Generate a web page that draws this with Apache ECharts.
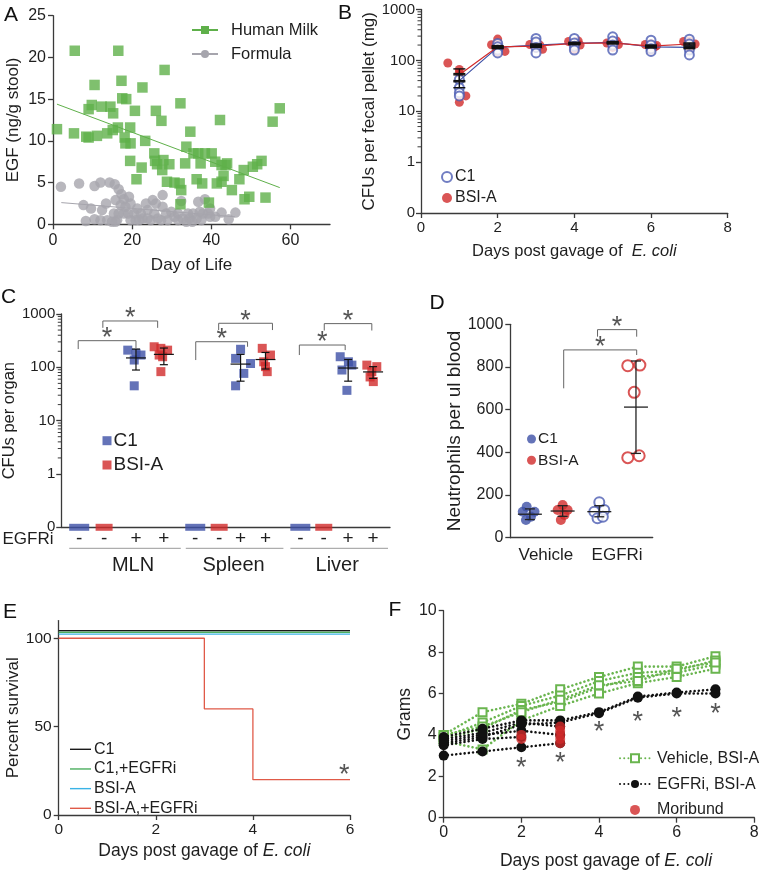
<!DOCTYPE html>
<html><head><meta charset="utf-8">
<script src="https://cdn.jsdelivr.net/npm/echarts@6/dist/echarts.min.js"></script>
<style>html,body{margin:0;padding:0;background:#fff}#c{width:762px;height:872px}</style>
</head><body><div id="c"></div>
<script>
// ================= DATA =================
// Panel A: EGF in stool vs day of life
const milkPts = [[1.0,11.4],[5.5,20.8],[5.3,10.9],[16.5,20.8],[17.3,17.2],[10.5,16.7],[22.6,16.4],[28.2,18.5],
 [9.0,13.8],[9.8,14.3],[12.3,14.1],[14.5,14.1],[15.2,13.3],[17.5,15.1],[18.5,15.0],[20.7,13.6],[26.0,13.6],[27.4,12.4],
 [32.2,14.5],[42.2,12.5],[55.5,12.3],[57.3,13.9],[8.4,10.5],[9.0,10.4],[11.1,10.6],[13.7,10.9],[15.1,11.3],[16.4,11.6],
 [18.1,10.4],[18.3,9.7],[19.5,11.6],[19.6,9.7],[23.3,10.0],[19.5,7.6],[22.4,6.8],[21.1,5.4],[25.6,8.5],[25.8,7.6],
 [26.3,7.2],[27.9,7.7],[27.6,6.5],[29.4,7.2],[28.8,5.1],[30.7,5.0],[32.0,4.9],[32.4,4.1],[32.2,2.4],[33.7,9.3],
 [34.7,11.1],[33.4,7.3],[35.5,8.5],[36.7,8.5],[38.4,8.5],[40.1,8.5],[37.3,7.3],[36.3,5.4],[37.7,4.9],[39.4,2.6],
 [41.0,7.5],[42.6,7.1],[43.6,7.1],[43.1,5.8],[41.4,4.9],[42.6,5.1],[45.2,4.1],[47.1,5.4],[48.2,6.5],[48.4,3.0],
 [49.6,3.3],[50.5,6.9],[51.6,7.2],[52.7,7.6],[53.7,3.2],[44.0,7.3]];
const formulaPts = [[2.0,4.5],[6.6,4.9],[7.7,2.3],[8.3,0.4],[9.6,1.9],[10.5,4.6],[10.5,0.6],[12.0,5.0],[14.3,5.0],
 [15.6,4.8],[16.6,4.2],[17.3,3.6],[17.9,3.0],[12.4,1.7],[13.4,2.5],[12.0,0.5],[13.7,0.5],[15.4,1.3],[15.8,0.3],
 [16.6,1.3],[17.1,2.3],[18.3,2.1],[19.2,3.3],[19.0,1.3],[19.6,0.5],[20.5,1.3],[20.9,0.5],[21.3,1.9],[22.2,1.3],
 [23.5,2.5],[23.9,1.7],[25.2,2.9],[26.0,2.5],[25.6,1.3],[26.5,0.7],[27.7,3.5],[27.7,2.1],[28.6,1.3],[23.9,0.7],
 [22.6,0.7],[29.0,0.5],[29.9,1.5],[30.7,0.9],[31.6,1.3],[32.4,2.8],[32.8,0.7],[33.7,0.3],[34.1,1.3],[34.5,0.7],
 [35.4,1.3],[36.3,0.7],[36.7,2.7],[37.1,1.5],[37.9,1.3],[38.4,3.0],[39.7,1.9],[39.7,0.9],[41.0,0.9],[42.6,1.4],
 [44.4,0.6],[46.1,1.4],[16.2,0.5],[14.9,0.3],[21.8,0.5],[27.3,0.5],[31.6,0.5],[35.2,0.3],[37.5,0.5],[39.2,1.3],
 [24.7,0.5],[17.9,1.3],[19.6,2.5],[15.8,2.9]];
const milkTrend = [[1.0,14.4],[57.3,4.4]];
const formulaTrend = [[2.1,2.6],[46.0,0.9]];

// Panel B: CFUs per fecal pellet (log)
const bDays = [1,2,3,4,5,6,7];
const bC1Pts = [[1,42],[1,29],[1,23],[1,20],
 [2,215],[2,185],[2,160],[2,140],[3,270],[3,230],[3,180],[3,140],[4,270],[4,220],[4,190],[4,160],
 [5,290],[5,240],[5,200],[5,160],[6,250],[6,200],[6,170],[6,150],[7,260],[7,210],[7,160],[7,128]];
const bBsiPts = [[0.7,89],[1,66],[1,57],[1.17,20],[1,15],
 [1.84,203],[2,262],[2,146],[2.19,150],[2,185],[2.84,205],[3.17,165],[3.02,220],[3,175],[3.1,200],
 [3.85,235],[4.1,240],[4,165],[4.15,200],[4,215],[4.85,220],[5.1,240],[5,180],[5.15,205],[5,225],
 [5.85,205],[6.15,195],[6,160],[6,215],[6.1,185],[6.85,235],[7.15,210],[7,240],[7,170],[7.05,195]];
const bC1Mean = [40,180,200,215,225,185,180];
const bC1Lo   = [29,170,190,205,215,175,170];
const bC1Hi   = [55,190,210,225,235,195,190];
const bBsiMean = [52,185,190,215,220,190,210];
const bBsiLo   = [38,175,180,205,210,180,200];
const bBsiHi   = [68,195,200,225,230,200,220];
const logMinorTicks = [2,3,4,5,6,7,8,9,20,30,40,50,60,70,80,90,200,300,400,500,600,700,800,900];

// Panel C: CFUs per organ (log); x positions in slot units
const cGroups = ['MLN','Spleen','Liver'];
const cEgfri = ['-','-','+','+','-','-','+','+','-','-','+','+'];
const cSlotX = [0.72,1.72,3.0,4.12,5.38,6.34,7.2,8.2,9.6,10.54,11.52,12.52];
const cZeroC1 = [[0.72,0],[5.38,0],[9.6,0]];
const cZeroBsi = [[1.72,0],[6.34,0],[10.54,0]];
const cC1Pts = [[2.67,210],[3.0,183],[3.2,170],[2.93,137],[2.93,45],
 [7.2,218],[7.0,147],[7.6,118],[7.33,77],[7.0,45],
 [11.2,158],[11.67,110],[11.27,89],[11.53,127],[11.47,37]];
const cBsiPts = [[3.73,243],[4.0,227],[4.27,210],[3.93,170],[4.07,158],[4.0,83],
 [8.07,227],[8.4,170],[8.13,127],[8.2,103],[8.27,83],
 [12.27,110],[12.67,103],[12.47,83],[12.53,54],[12.4,66]];
const cStats = [ // x, mean, lo, hi
 [3.0,150,89,220],[4.12,175,112,230],[7.2,115,55,175],[8.2,140,93,190],[11.52,97,55,140],[12.52,82,62,103]];
const cBrackets = [ // x1, x2, top, left leg end, right leg end
 [0.68,3.0,316,220,230],[1.67,3.87,740,550,550],
 [5.4,7.48,302,137,243],[6.32,8.48,670,500,500],
 [9.56,11.4,262,170,210],[10.56,12.47,660,490,490]];
const cGroupSpan = [[0.32,4.8],[5.0,8.92],[9.2,13.12]];
const cGroupLabelX = [2.88,6.92,11.08];

// Panel D: neutrophils
const dCats = ['Vehicle','EGFRi'];
const dVehC1 = [[0.46,145],[0.35,122],[0.68,122],[0.44,83],[0.58,98]];
const dVehBsi = [[1.47,153],[1.33,130],[1.61,130],[1.42,83],[1.52,106]];
const dEgC1 = [[2.5,166],[2.36,122],[2.64,130],[2.45,91],[2.6,98]];
const dEgBsi = [[3.3,806],[3.64,809],[3.48,681],[3.3,375],[3.62,384]];
const dStats = [[0.55,110,85,135],[1.47,125,100,150],[2.5,122,98,150],[3.53,612,395,828]];
const dBrackets = [[1.5,3.55,880,700,856],[2.45,3.55,975,942,942]];

// Panel E: survival
const eC1 = [[0,104.3],[6,104.3]];
const eC1Egfri = [[0,103.4],[6,103.4]];
const eBsi = [[0,102.4],[6,102.4]];
const eBsiEgfri = [[0,100],[3,60],[4,20],[6,20]];
const eStar = [[5.88,25.5]];

// Panel F: weights (grams) per mouse, days 0..7
const fDays = [0,1,2,3,4,5,6,7];
const fVehicle = [
 [4.0,5.1,5.5,6.2,6.8,7.3,7.3,7.8],
 [3.9,4.6,5.4,5.9,6.6,7.0,7.1,7.6],
 [3.8,4.3,5.2,5.6,6.3,6.8,7.0,7.4],
 [3.7,3.3,4.7,5.4,6.0,6.5,6.8,7.2],
 [4.0,4.4,5.1,5.7,6.4,6.6,7.2,7.5]];
const fEgfri = [
 [3.9,4.3,4.7,4.7,5.1,5.85,6.05,6.2],
 [3.6,3.9,4.5,4.6,5.05,5.8,6.0,6.0],
 [3.0,3.2,3.4,3.6],
 [3.5,3.8,3.9],
 [3.7,4.0,4.2,4.0],
 [3.8,4.1,4.6,4.4]];
const fMoribund = [[2,3.8],[2,4.0],[3,3.6],[3,3.8],[3,4.0],[3,4.2],[3,4.4]];
const fStars = [[2,2.65],[3,2.9],[4,4.4],[5,4.9],[6,5.1],[7,5.25]];

// ================= STYLE / LAYOUT =================
const FONT = "'Liberation Sans', Arial, sans-serif";
const AX = '#3a3a3a', TXT = '#1e1e1e';
const GREEN = '#5fb04a', GREY = '#a6a5ad', BLUE = '#3d50a6', RED = '#d12b2b', OPENBLUE = '#4c5cb3';
const grids = [
 {left:53, top:15.7, width:277, height:208.6},
 {left:421, top:9.5, width:306.7, height:203.5},
 {left:60, top:314, width:330, height:213.3},
 {left:510.3, top:324.3, width:142.4, height:213.4},
 {left:58.7, top:620.6, width:291.3, height:194.4},
 {left:443.7, top:610.7, width:310.6, height:207}];

function ax(o) {
  const base = {
    gridIndex: o.g, type: o.type || 'value', min: o.min, max: o.max,
    splitLine: {show:false},
    axisLine: {show:true, onZero:false, lineStyle:{color:AX, width:1.3}},
    axisTick: Object.assign({show:true, length:5, inside:false, lineStyle:{color:AX, width:1.3}}, o.tick || {}),
    axisLabel: Object.assign({color:TXT, fontSize:o.fs || 15, fontFamily:FONT, margin:7, formatter:(v)=>String(v)}, o.label || {}),
    nameLocation: 'middle', nameGap: o.gap || 30, name: o.name || '',
    nameTextStyle: Object.assign({color:TXT, fontSize:o.nfs || 17, fontFamily:FONT,
      rich:{i:{fontStyle:'italic', fontSize:o.nfs || 17, fontFamily:FONT, color:TXT}}}, o.nts || {})
  };
  if (o.interval != null) base.interval = o.interval;
  if (o.logBase) base.logBase = o.logBase;
  return base;
}
const logFmt = v => v < 0.5 ? '0' : String(Math.round(v));
const floorLog = v => v <= 0 ? 0.1 : v;

function errRender(halfMean, halfCap, color, lw) {
  return function (p, api) {
    const x = api.value(0);
    const pm = api.coord([x, api.value(1)]), pl = api.coord([x, api.value(2)]), ph = api.coord([x, api.value(3)]);
    const st = {stroke: color, lineWidth: lw};
    return {type:'group', children:[
      {type:'line', shape:{x1:pm[0]-halfMean, y1:pm[1], x2:pm[0]+halfMean, y2:pm[1]}, style:st},
      {type:'line', shape:{x1:pl[0], y1:pl[1], x2:ph[0], y2:ph[1]}, style:st},
      {type:'line', shape:{x1:pl[0]-halfCap, y1:pl[1], x2:pl[0]+halfCap, y2:pl[1]}, style:st},
      {type:'line', shape:{x1:ph[0]-halfCap, y1:ph[1], x2:ph[0]+halfCap, y2:ph[1]}, style:st}]};
  };
}
const STAR_FS = 27;
function starEl(x, y) {
  return {type:'text', x:x, y:y + STAR_FS*0.22, style:{text:'*', fontSize:STAR_FS, fontFamily:FONT,
    fill:'#555', align:'center', verticalAlign:'middle'}};
}
function bracketRender(p, api) {
  const x1 = api.value(0), x2 = api.value(1), yt = api.value(2);
  const a = api.coord([x1, api.value(3)]), b = api.coord([x1, yt]), c = api.coord([x2, yt]), d = api.coord([x2, api.value(4)]);
  return {type:'group', children:[
    {type:'polyline', shape:{points:[a,b,c,d]}, style:{stroke:'#666', fill:null, lineWidth:1}},
    starEl((b[0]+c[0])/2, b[1]-8)]};
}
function starRender(p, api) {
  const c = api.coord([api.value(0), api.value(1)]);
  return starEl(c[0], c[1]);
}
const nm = s => s.split('|')[1];
const legendBase = (o) => Object.assign({orient:'vertical', selectedMode:false, formatter:nm,
  textStyle:{color:TXT, fontFamily:FONT, fontSize:16, lineHeight:20}}, o);

// ================= OPTION =================
const series = [];
// ---- A
series.push({name:'A|Human Milk pts', type:'scatter', xAxisIndex:0, yAxisIndex:0, data:milkPts,
  symbol:'rect', symbolSize:10.5, itemStyle:{color:GREEN}, z:3});
series.push({name:'A|Formula pts', type:'scatter', xAxisIndex:0, yAxisIndex:0, data:formulaPts,
  symbol:'circle', symbolSize:10.5, itemStyle:{color:GREY}, z:2});
series.push({name:'A|Human Milk', type:'line', xAxisIndex:0, yAxisIndex:0, data:milkTrend, symbol:'rect', symbolSize:10,
  showSymbol:false, lineStyle:{color:GREEN, width:1}, itemStyle:{color:GREEN}, z:4});
series.push({name:'A|Formula', type:'line', xAxisIndex:0, yAxisIndex:0, data:formulaTrend, symbol:'circle', symbolSize:10,
  showSymbol:false, lineStyle:{color:GREY, width:1}, itemStyle:{color:GREY}, z:1});
// ---- B
series.push({name:'B|C1 line', type:'line', xAxisIndex:1, yAxisIndex:1, data:bDays.map((d,i)=>[d,bC1Mean[i]]),
  showSymbol:false, lineStyle:{color:BLUE, width:1.2}, z:4});
series.push({name:'B|BSI line', type:'line', xAxisIndex:1, yAxisIndex:1, data:bDays.map((d,i)=>[d,bBsiMean[i]]),
  showSymbol:false, lineStyle:{color:RED, width:1.2}, z:4});
series.push({name:'B|BSI-A', type:'scatter', xAxisIndex:1, yAxisIndex:1, data:bBsiPts, symbol:'circle', symbolSize:9,
  itemStyle:{color:RED}, z:2});
series.push({name:'B|C1', type:'scatter', xAxisIndex:1, yAxisIndex:1, data:bC1Pts, symbol:'emptyCircle', symbolSize:9,
  itemStyle:{color:OPENBLUE, borderColor:OPENBLUE, borderWidth:1.1}, z:3});
series.push({name:'B|err1', type:'custom', xAxisIndex:1, yAxisIndex:1, z:5, encode:{x:0, y:[1,2,3]},
  data:bDays.map((d,i)=>[d,bC1Mean[i],bC1Lo[i],bC1Hi[i]]), renderItem:errRender(6,6,'#111',1.4)});
series.push({name:'B|err2', type:'custom', xAxisIndex:1, yAxisIndex:1, z:5, encode:{x:0, y:[1,2,3]},
  data:bDays.map((d,i)=>[d,bBsiMean[i],bBsiLo[i],bBsiHi[i]]), renderItem:errRender(6,6,'#111',1.4)});
// ---- C
series.push({name:'C|C1', type:'scatter', xAxisIndex:2, yAxisIndex:2, data:cC1Pts, symbol:'rect', symbolSize:9,
  itemStyle:{color:BLUE}, z:2});
series.push({name:'C|BSI-A', type:'scatter', xAxisIndex:2, yAxisIndex:2, data:cBsiPts, symbol:'rect', symbolSize:9,
  itemStyle:{color:RED}, z:2});
series.push({name:'C|zero C1', type:'scatter', xAxisIndex:2, yAxisIndex:2, data:cZeroC1.map(p=>[p[0],floorLog(p[1])]),
  symbol:'rect', symbolSize:[20,7], itemStyle:{color:BLUE}, z:4, clip:false});
series.push({name:'C|zero BSI', type:'scatter', xAxisIndex:2, yAxisIndex:2, data:cZeroBsi.map(p=>[p[0],floorLog(p[1])]),
  symbol:'rect', symbolSize:[17,7], itemStyle:{color:RED}, z:4, clip:false});
series.push({name:'C|err', type:'custom', xAxisIndex:2, yAxisIndex:2, z:5, encode:{x:0, y:[1,2,3]}, data:cStats,
  renderItem:errRender(10,4,'#111',1.2)});
series.push({name:'C|brackets', type:'custom', xAxisIndex:2, yAxisIndex:2, z:5, clip:false, encode:{x:[0,1], y:[2,3,4]},
  data:cBrackets, renderItem:bracketRender});
series.push({name:'C|groups', type:'custom', xAxisIndex:2, yAxisIndex:2, z:5, clip:false, silent:true,
  data:cGroupSpan.map((s,i)=>[s[0],s[1],cGroupLabelX[i],i]),
  renderItem:(p, api) => {
    const a = api.coord([api.value(0),0.1]), b = api.coord([api.value(1),0.1]), t = api.coord([api.value(2),0.1]);
    return {type:'group', children:[
      {type:'line', shape:{x1:a[0], y1:a[1]+21, x2:b[0], y2:a[1]+21}, style:{stroke:'#999', lineWidth:1}},
      {type:'text', x:t[0], y:a[1]+38, style:{text:cGroups[api.value(3)], fontSize:20, fontFamily:FONT, fill:TXT,
        align:'center', verticalAlign:'middle'}}]};
  }});
// ---- D
series.push({name:'D|C1', type:'scatter', xAxisIndex:3, yAxisIndex:3, data:dVehC1, symbol:'circle', symbolSize:10,
  itemStyle:{color:BLUE}, z:2});
series.push({name:'D|BSI-A', type:'scatter', xAxisIndex:3, yAxisIndex:3, data:dVehBsi, symbol:'circle', symbolSize:10,
  itemStyle:{color:RED}, z:2});
series.push({name:'D|C1 EGFRi', type:'scatter', xAxisIndex:3, yAxisIndex:3, data:dEgC1, symbol:'emptyCircle', symbolSize:10,
  itemStyle:{color:OPENBLUE, borderColor:OPENBLUE, borderWidth:1.1}, z:2});
series.push({name:'D|BSI EGFRi', type:'scatter', xAxisIndex:3, yAxisIndex:3, data:dEgBsi, symbol:'emptyCircle', symbolSize:11,
  itemStyle:{color:RED, borderColor:RED, borderWidth:1.1}, z:2});
series.push({name:'D|err', type:'custom', xAxisIndex:3, yAxisIndex:3, z:5, encode:{x:0, y:[1,2,3]}, data:dStats,
  renderItem:errRender(12,5,'#222',1.3)});
series.push({name:'D|brackets', type:'custom', xAxisIndex:3, yAxisIndex:3, z:5, clip:false, encode:{x:[0,1], y:[2,3,4]},
  data:dBrackets, renderItem:bracketRender});
// ---- E
const E_COLORS = ['#1a1a1a','#4caf5f','#3ab3e6','#e05a48'];
series.push({name:'E|C1', type:'line', xAxisIndex:4, yAxisIndex:4, data:eC1, symbol:'none', color:E_COLORS[0], lineStyle:{color:E_COLORS[0], width:1.3}, z:4});
series.push({name:'E|C1,+EGFRi', type:'line', xAxisIndex:4, yAxisIndex:4, data:eC1Egfri, symbol:'none', color:E_COLORS[1], lineStyle:{color:E_COLORS[1], width:1.3}, z:3});
series.push({name:'E|BSI-A', type:'line', xAxisIndex:4, yAxisIndex:4, data:eBsi, symbol:'none', color:E_COLORS[2], lineStyle:{color:E_COLORS[2], width:1.3}, z:3});
series.push({name:'E|BSI-A,+EGFRi', type:'line', xAxisIndex:4, yAxisIndex:4, data:eBsiEgfri, step:'end', symbol:'none', color:E_COLORS[3], lineStyle:{color:E_COLORS[3], width:1.3}, z:3});
series.push({name:'E|star', type:'custom', xAxisIndex:4, yAxisIndex:4, data:eStar, renderItem:starRender, z:5});
// ---- F
const dotted = (c) => ({color:c, width:2.6, type:[0.01,4.2], cap:'round'});
fVehicle.forEach((m) => series.push({name:'F|Vehicle, BSI-A', type:'line', xAxisIndex:5, yAxisIndex:5,
  data:m.map((v,i)=>[fDays[i],v]), symbol:'emptyRect', symbolSize:8, showSymbol:true,
  lineStyle:dotted('#6ab54f'), itemStyle:{color:'#6ab54f', borderColor:'#6ab54f', borderWidth:1.2}, z:2}));
fEgfri.forEach((m) => series.push({name:'F|EGFRi, BSI-A', type:'line', xAxisIndex:5, yAxisIndex:5,
  data:m.map((v,i)=>[fDays[i],v]), symbol:'circle', symbolSize:10, showSymbol:true,
  lineStyle:dotted('#111'), itemStyle:{color:'#111'}, z:3}));
series.push({name:'F|Moribund', type:'scatter', xAxisIndex:5, yAxisIndex:5, data:fMoribund, symbol:'circle', symbolSize:10,
  itemStyle:{color:RED}, z:4});
series.push({name:'F|stars', type:'custom', xAxisIndex:5, yAxisIndex:5, data:fStars, renderItem:starRender, z:5});

const baseGraphic = [
  ...[['A',11,15],['B',345,13.5],['C',8.5,297.5],['D',437,303.5],['E',10,612.5],['F',395,610.5]].map(l => ({
    type:'text', x:l[1], y:l[2], style:{text:l[0], fontSize:21, fontFamily:FONT, fill:'#111', align:'center', verticalAlign:'middle'}})),
  {type:'text', x:28, y:539.3, style:{text:'EGFRi', fontSize:17, fontFamily:FONT, fill:TXT, align:'center', verticalAlign:'middle'}}
];

const option = {
  animation:false, backgroundColor:'#fff',
  textStyle:{fontFamily:FONT},
  grid: grids.map(g => Object.assign({containLabel:false}, g)),
  xAxis: [
    ax({g:0, min:0, max:70, fs:16, name:'Day of Life', gap:33, nfs:17,
      tick:{customValues:[0,20,40,60]}, label:{customValues:[0,20,40,60], margin:8}}),
    ax({g:1, min:0, max:8, interval:2, fs:15, name:'Days post gavage of  {i|E. coli}', gap:30, nfs:16.5}),
    ax({g:2, min:0, max:13.2, fs:19, tick:{show:false},
      label:{customValues:cSlotX, margin:2, formatter:(v)=>{const i = cSlotX.findIndex(s=>Math.abs(s-v)<1e-6); return i>=0?cEgfri[i]:'';}}}),
    ax({g:3, min:0, max:4, fs:17, tick:{show:false},
      label:{customValues:[1,3], margin:9, formatter:(v)=>dCats[(v-1)/2]}}),
    ax({g:4, min:0, max:6, interval:2, fs:15.5, name:'Days post gavage of {i|E. coli}', gap:27, nfs:17.5}),
    ax({g:5, min:0, max:8, interval:2, fs:16, name:'Days post gavage of {i|E. coli}', gap:34, nfs:17.5,
      nts:{padding:[0,0,0,14]}})
  ],
  yAxis: [
    ax({g:0, min:0, max:25, interval:5, fs:16, name:'EGF (ng/g stool)', gap:31, nfs:17}),
    ax({g:1, type:'log', logBase:10, min:0.1, max:1000, fs:15, name:'CFUs per fecal pellet (mg)', gap:40, nfs:17,
      label:{formatter:logFmt, margin:6}}),
    ax({g:2, type:'log', logBase:10, min:0.1, max:1000, fs:15, name:'CFUs per organ', gap:34, nfs:16.5,
      label:{formatter:logFmt, margin:6}}),
    ax({g:3, min:0, max:1000, interval:200, fs:16, name:'Neutrophils per ul blood', gap:46, nfs:19}),
    ax({g:4, min:0, max:110, fs:15.5, name:'Percent survival', gap:37, nfs:17,
      tick:{customValues:[0,50,100]}, label:{customValues:[0,50,100]}}),
    ax({g:5, min:0, max:10, interval:2, fs:16, name:'Grams', gap:30, nfs:17.5})
  ],
  legend: [
    legendBase({data:['A|Human Milk','A|Formula'], left:186, top:15, itemWidth:26, itemHeight:10, itemGap:4,
      textStyle:{color:TXT, fontFamily:FONT, fontSize:16.5, lineHeight:20, padding:[0,0,0,8]}}),
    legendBase({data:['B|C1','B|BSI-A'], left:436, top:162, itemWidth:10, itemHeight:10, itemGap:1,
      textStyle:{color:TXT, fontFamily:FONT, fontSize:16, lineHeight:20, padding:[0,0,0,-2]}}),
    legendBase({data:['C|C1','C|BSI-A'], left:97.5, top:424.7, itemWidth:9, itemHeight:9, itemGap:2.3,
      textStyle:{color:TXT, fontFamily:FONT, fontSize:19, lineHeight:22, padding:[0,0,0,-3]}}),
    legendBase({data:[{name:'D|C1', icon:'circle'},{name:'D|BSI-A', icon:'circle'}], left:522, top:424.5, itemWidth:9, itemHeight:9, itemGap:2.3,
      textStyle:{color:TXT, fontFamily:FONT, fontSize:15.5, lineHeight:19, padding:[0,0,0,-3]}}),
    legendBase({data:['E|C1','E|C1,+EGFRi','E|BSI-A','E|BSI-A,+EGFRi'].map(n=>({name:n, icon:'rect'})), left:65, top:735.3, itemWidth:21, itemHeight:1.4, itemGap:1.67,
      textStyle:{color:TXT, fontFamily:FONT, fontSize:16, lineHeight:18, padding:[0,0,0,-2]}}),
    legendBase({data:['F|Vehicle, BSI-A','F|EGFRi, BSI-A', {name:'F|Moribund', icon:'circle'}], left:614, top:743.3, itemWidth:30, itemHeight:10, itemGap:5.8,
      textStyle:{color:TXT, fontFamily:FONT, fontSize:16, lineHeight:20, padding:[0,0,0,2]}})
  ],
  graphic: baseGraphic,
  series: series
};
const chart = echarts.init(document.getElementById('c'), null, {renderer:'canvas'});
chart.setOption(option);

// minor log ticks on panels B and C, placed through the axis scales
const minorEls = [];
[1, 2].forEach(gi => {
  const x0 = chart.convertToPixel({xAxisIndex: gi}, 0);
  logMinorTicks.forEach(v => {
    const y = chart.convertToPixel({yAxisIndex: gi}, v);
    minorEls.push({type:'line', shape:{x1:x0-3.5, y1:y, x2:x0, y2:y}, style:{stroke:AX, lineWidth:1}, silent:true});
  });
});
chart.setOption({graphic: baseGraphic.concat(minorEls)}, {replaceMerge:['graphic']});
</script></body></html>
